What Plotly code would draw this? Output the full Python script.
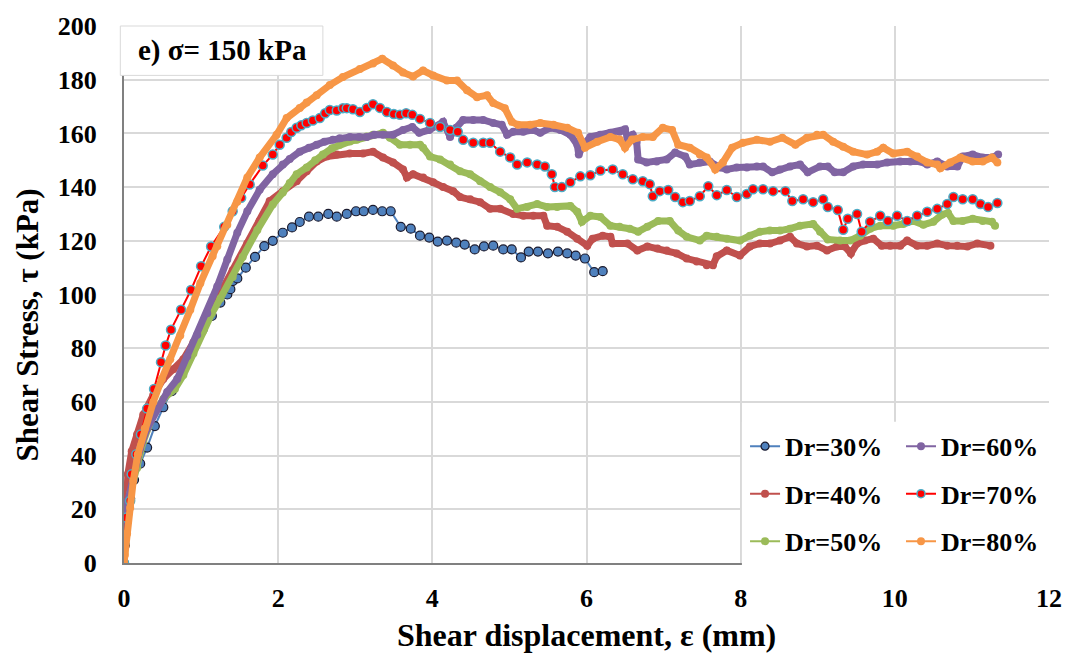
import plotly.graph_objects as go

# ---------------- data ----------------
x30 = [0, 0.01, 0.02, 0.04, 0.08, 0.13, 0.21, 0.30, 0.40, 0.51, 0.62, 0.77, 0.90, 1.02, 1.14, 1.25, 1.34, 1.38,
       1.41, 1.47, 1.58, 1.70, 1.82, 1.93, 2.06, 2.18, 2.28, 2.40, 2.52, 2.65, 2.76, 2.89, 3.01, 3.11, 3.23, 3.35,
       3.46, 3.59, 3.72, 3.84, 3.96, 4.07, 4.19, 4.31, 4.42, 4.55, 4.67, 4.79, 4.92, 5.03, 5.15, 5.25, 5.37, 5.50,
       5.63, 5.75, 5.86, 5.98, 6.10, 6.21]
y30 = [0, 6.6, 12, 18, 24, 31, 37, 43, 51, 58, 64, 73, 80, 87, 92, 97, 100, 102,
       105, 106, 110, 114, 118, 120, 123, 125, 127, 129, 129, 130, 129, 130, 131, 131, 131.5, 131,
       131, 125.2, 124.5, 121.9, 121.2, 119.7, 120.1, 119.3, 118.6, 116.8, 117.9, 118.2, 116.8, 116.8, 113.8, 116.0,
       116.0, 115.3, 116.0, 115.3, 114.5, 113.4, 108.3, 108.7]

x40 = [0, 0.01, 0.02, 0.05, 0.10, 0.17, 0.25, 0.38, 0.51, 0.64, 0.77, 0.90, 1.08, 1.25, 1.41, 1.60, 1.76, 1.89,
       2.06, 2.24, 2.37, 2.50, 2.63, 2.76, 2.93, 3.10, 3.23, 3.36, 3.49, 3.62, 3.67, 3.75, 3.88, 4.01, 4.14, 4.27,
       4.36, 4.49, 4.62, 4.75, 4.88, 5.05, 5.18, 5.31, 5.44, 5.49, 5.62, 5.75, 5.88, 6.01, 6.08, 6.21, 6.31, 6.34,
       6.53, 6.66, 6.79, 6.92, 7.04, 7.17, 7.30, 7.43, 7.56, 7.64, 7.69, 7.82, 7.99, 8.12, 8.25, 8.38, 8.51, 8.64,
       8.73, 8.86, 8.99, 9.12, 9.25, 9.35, 9.43, 9.51, 9.61, 9.72, 9.83, 9.94, 10.07, 10.16, 10.29, 10.42, 10.55,
       10.68, 10.81, 10.94, 11.07, 11.24]
y40 = [0, 11.0, 23.2, 33.1, 41.6, 47.9, 55.2, 62.6, 68.5, 72.2, 75.9, 82.1, 90.6, 100.6, 109.0, 119.0, 127.4, 134.8,
       138.5, 142.2, 145.9, 149.5, 151.4, 152.1, 152.5, 152.5, 153.2, 151.0, 149.2, 146.6, 143.6, 144.8, 143.6, 141.8,
       140.0, 138.5, 136.3, 135.5, 134.4, 131.9, 131.9, 130.0, 129.3, 129.3, 129.3, 125.6, 125.2, 123.4, 120.8, 118.2,
       120.8, 121.9, 121.5, 119.0, 119.0, 116.4, 117.9, 117.1, 116.4, 115.3, 113.4, 112.3, 110.9, 110.9, 114.2, 116.4,
       114.5, 117.9, 119.0, 119.0, 120.1, 121.5, 119.0, 117.9, 118.2, 116.4, 117.9, 117.9, 115.3, 119.0, 120.1, 120.8,
       118.2, 118.2, 118.2, 120.1, 118.2, 118.2, 119.0, 118.2, 118.2, 117.9, 119.0, 118.2]

x50 = [0, 0.01, 0.04, 0.08, 0.17, 0.25, 0.38, 0.51, 0.66, 0.77, 0.90, 1.02, 1.14, 1.25, 1.41, 1.54, 1.73, 1.93,
       2.06, 2.15, 2.24, 2.37, 2.48, 2.58, 2.70, 2.80, 2.93, 3.02, 3.15, 3.23, 3.36, 3.45, 3.58, 3.71, 3.84, 3.88,
       3.97, 4.10, 4.23, 4.36, 4.49, 4.62, 4.75, 4.88, 5.01, 5.10, 5.23, 5.36, 5.49, 5.62, 5.79, 5.88, 5.94, 6.05,
       6.18, 6.31, 6.43, 6.56, 6.67, 6.79, 6.93, 7.08, 7.19, 7.30, 7.47, 7.56, 7.69, 7.82, 7.99, 8.12, 8.25, 8.38,
       8.51, 8.64, 8.77, 8.94, 9.03, 9.13, 9.29, 9.42, 9.55, 9.68, 9.81, 9.98, 10.11, 10.24, 10.37, 10.50, 10.61,
       10.69, 10.76, 10.88, 11.01, 11.14, 11.26, 11.30]
y50 = [0, 5.9, 15.8, 25.8, 35.4, 45.3, 55.2, 61.1, 64.8, 70.0, 78.0, 86.0, 93.0, 98.5, 106.5, 114.0, 124.0, 133.5,
       138.0, 141.5, 144.8, 147.3, 150.0, 152.1, 154.5, 155.8, 157.0, 157.6, 158.8, 159.5, 160.2, 158.4, 155.8, 155.8,
       155.8, 154.7, 151.4, 150.3, 148.4, 145.9, 144.8, 142.2, 140.0, 138.1, 135.5, 131.9, 132.6, 133.7, 132.6, 132.6,
       133.0, 130.8, 127.1, 129.3, 128.9, 125.6, 125.2, 124.5, 123.4, 125.2, 127.4, 127.4, 123.8, 121.5, 120.1, 121.9,
       121.5, 120.8, 120.1, 121.9, 123.4, 123.8, 123.8, 124.5, 125.6, 126.3, 123.4, 120.5, 120.1, 120.1, 121.9, 124.5,
       125.6, 125.6, 126.3, 127.4, 126.0, 127.1, 129.7, 130.4, 127.4, 127.4, 128.2, 127.4, 127.1, 125.6]

x60 = [0, 0.01, 0.05, 0.12, 0.21, 0.30, 0.43, 0.56, 0.69, 0.82, 0.95, 1.08, 1.21, 1.34, 1.47, 1.60, 1.76, 1.93,
       2.06, 2.15, 2.28, 2.40, 2.50, 2.60, 2.71, 2.80, 2.93, 3.05, 3.15, 3.25, 3.36, 3.49, 3.62, 3.74, 3.83, 3.96,
       4.14, 4.23, 4.31, 4.40, 4.53, 4.66, 4.79, 4.90, 4.97, 5.05, 5.18, 5.31, 5.40, 5.53, 5.66, 5.79, 5.88, 5.90,
       5.96, 6.05, 6.18, 6.31, 6.43, 6.50, 6.53, 6.60, 6.65, 6.67, 6.78, 6.91, 7.04, 7.15, 7.28, 7.34, 7.47, 7.60,
       7.73, 7.82, 7.95, 8.08, 8.21, 8.29, 8.41, 8.51, 8.64, 8.77, 8.87, 9.03, 9.13, 9.22, 9.33, 9.46, 9.59, 9.77,
       9.90, 10.07, 10.20, 10.33, 10.42, 10.55, 10.68, 10.81, 10.88, 11.01, 11.14, 11.26, 11.34]
y60 = [0, 11.0, 23.2, 33.1, 42.7, 50.1, 57.5, 63.7, 68.5, 77.0, 85.0, 93.0, 103.0, 113.0, 123.0, 131.0, 139.0, 144.8,
       148.4, 150.5, 153.2, 154.7, 155.8, 156.9, 157.6, 158.2, 158.7, 158.7, 158.7, 159.5, 159.5, 159.5, 161.3, 162.4,
       160.2, 161.3, 164.3, 158.7, 162.1, 165.0, 165.0, 165.0, 163.9, 163.2, 159.5, 160.6, 160.6, 161.3, 160.2, 162.1,
       161.3, 159.5, 155.8, 152.1, 155.8, 158.7, 159.5, 160.2, 160.6, 161.5, 158.4, 159.5, 156.9, 150.3, 149.2, 149.5,
       150.3, 152.9, 151.4, 148.4, 149.2, 149.5, 147.3, 146.6, 147.3, 147.3, 147.7, 147.7, 145.5, 146.6, 147.7, 148.4,
       145.5, 147.7, 147.7, 145.5, 145.5, 147.7, 148.4, 148.4, 149.2, 149.5, 149.5, 149.5, 148.4, 149.5, 147.7, 147.7,
       151.4, 152.1, 151.0, 151.0, 152.1]

x70 = [0, 0.005, 0.03, 0.08, 0.10, 0.16, 0.22, 0.30, 0.39, 0.48, 0.54, 0.61, 0.74, 0.87, 1.00, 1.13, 1.30, 1.41,
       1.52, 1.63, 1.80, 1.93, 2.02, 2.11, 2.17, 2.24, 2.30, 2.37, 2.45, 2.54, 2.61, 2.67, 2.76, 2.84, 2.89, 2.97,
       3.06, 3.15, 3.23, 3.32, 3.41, 3.50, 3.58, 3.66, 3.74, 3.84, 3.97, 4.10, 4.23, 4.33, 4.40, 4.53, 4.66, 4.75,
       4.88, 5.01, 5.10, 5.23, 5.36, 5.46, 5.55, 5.59, 5.68, 5.79, 5.92, 6.05, 6.18, 6.34, 6.47, 6.60, 6.73, 6.82,
       6.86, 6.95, 7.06, 7.15, 7.25, 7.34, 7.47, 7.58, 7.69, 7.82, 7.95, 8.08, 8.16, 8.29, 8.42, 8.58, 8.67, 8.81,
       8.94, 9.07, 9.13, 9.26, 9.33, 9.39, 9.51, 9.57, 9.68, 9.81, 9.91, 10.03, 10.16, 10.29, 10.42, 10.55, 10.68,
       10.76, 10.88, 11.01, 11.11, 11.21, 11.33]
y70 = [0, 7.4, 16.9, 23.2, 33.1, 40.5, 47.9, 57.5, 64.8, 74.8, 81.0, 86.9, 94.3, 101.7, 110.5, 117.9, 125.2, 131.0,
       136.0, 141.0, 148.0, 152.1, 155.8, 158.4, 160.5, 162.1, 163.0, 163.9, 164.8, 165.7, 167.5, 168.7, 168.5, 169.4,
       169.4, 169.0, 168.0, 169.5, 170.9, 169.5, 168.0, 167.2, 166.9, 167.5, 166.9, 165.4, 163.9, 162.4, 161.3, 160.6,
       157.6, 156.5, 156.5, 156.5, 153.2, 151.0, 148.4, 149.2, 148.4, 147.7, 144.8, 140.0, 140.0, 141.8, 144.0, 144.4,
       146.2, 146.6, 144.8, 142.9, 142.2, 141.1, 136.6, 138.5, 138.9, 136.3, 134.4, 134.8, 136.6, 140.3, 137.0, 138.9,
       136.3, 137.4, 139.2, 139.2, 138.5, 138.5, 134.8, 135.5, 134.4, 135.5, 132.6, 131.5, 124.1, 128.2, 130.0, 123.4,
       127.1, 129.3, 127.4, 129.3, 127.4, 129.3, 130.8, 131.9, 133.7, 136.3, 135.5, 135.5, 133.7, 132.6, 134.1]

x80 = [0, 0.01, 0.04, 0.08, 0.12, 0.18, 0.27, 0.38, 0.49, 0.60, 0.73, 0.86, 0.99, 1.15, 1.21, 1.34, 1.47, 1.60,
       1.76, 1.98, 2.11, 2.28, 2.37, 2.50, 2.67, 2.84, 3.06, 3.23, 3.35, 3.49, 3.62, 3.75, 3.88, 4.01, 4.19, 4.32,
       4.45, 4.58, 4.71, 4.79, 4.94, 5.03, 5.11, 5.27, 5.40, 5.57, 5.75, 5.89, 5.98, 6.14, 6.31, 6.43, 6.50, 6.59,
       6.73, 6.86, 6.99, 7.11, 7.19, 7.34, 7.47, 7.56, 7.67, 7.77, 7.89, 8.03, 8.21, 8.38, 8.54, 8.71, 8.86, 8.99,
       9.07, 9.20, 9.33, 9.46, 9.64, 9.77, 9.85, 9.98, 10.16, 10.29, 10.42, 10.55, 10.59, 10.72, 10.85, 11.01,
       11.14, 11.26, 11.33]
y80 = [0, 3.0, 11.0, 20.6, 30.6, 40.5, 50.1, 60.0, 68.5, 75.9, 84.7, 94.3, 104.2, 114.2, 118.0, 126.0, 134.5, 143.6,
       151.0, 159.5, 165.7, 169.5, 171.5, 174.2, 178.0, 181.0, 184.0, 186.0, 187.8, 185.3, 182.7, 181.2, 183.4, 181.6,
       179.7, 179.7, 176.1, 173.5, 174.2, 171.3, 169.4, 164.3, 163.2, 163.2, 163.9, 163.2, 162.1, 160.2, 154.7, 156.9,
       158.7, 157.7, 154.7, 157.7, 158.7, 158.7, 162.1, 161.3, 155.8, 154.7, 152.1, 151.0, 146.6, 149.2, 154.7, 156.5,
       157.6, 156.9, 158.4, 155.8, 158.4, 159.5, 159.5, 156.9, 155.0, 153.2, 152.1, 153.2, 154.7, 152.5, 153.2, 151.4,
       149.2, 148.4, 147.0, 149.2, 151.0, 149.5, 149.5, 151.0, 149.2]

names = ["Dr=30%", "Dr=40%", "Dr=50%", "Dr=60%", "Dr=70%", "Dr=80%"]
x_ticks = [0, 2, 4, 6, 8, 10, 12]
y_ticks = [0, 20, 40, 60, 80, 100, 120, 140, 160, 180, 200]

# ---------------- styling ----------------
FONT = "Liberation Serif, Times New Roman, serif"
C30, C40, C50, C60, C70, C80 = "#4F81BD", "#C0504D", "#9BBB59", "#8064A2", "#FF0000", "#F79646"

fig = go.Figure()

series = [
    ("Dr=30%", x30, y30, dict(color=C30, width=2), dict(size=9, color=C30, line=dict(color="#1a1a2e", width=1.2))),
    ("Dr=40%", x40, y40, dict(color=C40, width=7), dict(size=8, color=C40)),
    ("Dr=50%", x50, y50, dict(color=C50, width=7), dict(size=8, color=C50)),
    ("Dr=60%", x60, y60, dict(color=C60, width=7), dict(size=8, color=C60)),
    ("Dr=70%", x70, y70, dict(color=C70, width=2), dict(size=9, color=C70, line=dict(color="#4BACC6", width=1.5))),
    ("Dr=80%", x80, y80, dict(color=C80, width=7), dict(size=8, color=C80)),
]
for nm, xs, ys, ln, mk in series:
    fig.add_trace(go.Scatter(x=xs, y=ys, mode="lines+markers", name=nm, line=ln, marker=mk,
                             showlegend=False))

# legend proxies (thin line + marker), one legend per entry for exact placement
legend_specs = {
    "Dr=30%": ("legend", 0.6714, 0.2173),
    "Dr=40%": ("legend2", 0.6714, 0.1289),
    "Dr=50%": ("legend3", 0.6714, 0.0405),
    "Dr=60%": ("legend4", 0.840, 0.2173),
    "Dr=70%": ("legend5", 0.840, 0.1289),
    "Dr=80%": ("legend6", 0.840, 0.0405),
}
for nm, xs, ys, ln, mk in series:
    lg = legend_specs[nm][0]
    mk2 = dict(mk)
    mk2["size"] = 8
    fig.add_trace(go.Scatter(x=[None], y=[None], mode="lines+markers", name=nm,
                             line=dict(color=ln["color"], width=2), marker=mk2,
                             showlegend=True, legend=lg))

legend_layout = {}
for nm, (lg, lx, ly) in legend_specs.items():
    legend_layout[lg] = dict(x=lx, y=ly, xanchor="left", yanchor="middle",
                             bgcolor="rgba(0,0,0,0)", borderwidth=0,
                             font=dict(family=FONT, size=26, color="black", weight="bold"),
                             itemwidth=30)

fig.update_layout(
    width=1074, height=653,
    margin=dict(l=124, r=25, t=20, b=90),
    paper_bgcolor="white", plot_bgcolor="white",
    xaxis=dict(range=[0, 12], tickvals=x_ticks, showgrid=True, gridcolor="#d9d9d9", gridwidth=1.5,
               showline=True, linecolor="#808080", linewidth=2, zeroline=False, ticks="",
               ticklabelstandoff=11,
               tickfont=dict(family=FONT, size=26, color="black", weight="bold")),
    yaxis=dict(range=[0, 200], tickvals=y_ticks, showgrid=True, gridcolor="#d9d9d9", gridwidth=1.5,
               showline=True, linecolor="#808080", linewidth=2, zeroline=False, ticks="",
               ticklabelstandoff=20,
               tickfont=dict(family=FONT, size=26, color="black", weight="bold")),
    shapes=[
        # title box at top-left
        dict(type="rect", xref="paper", yref="paper", x0=-0.004, x1=0.215, y0=0.908, y1=1.0,
             fillcolor="white", line=dict(color="#d9d9d9", width=1), layer="above"),
        # legend background box
        dict(type="rect", xref="paper", yref="paper", x0=0.668, x1=1.012, y0=-0.008, y1=0.263,
             fillcolor="white", line=dict(width=0), layer="above"),
    ],
    annotations=[
        dict(text="e) σ= 150 kPa", xref="paper", yref="paper", x=0.106, y=0.954,
             xanchor="center", yanchor="middle", showarrow=False,
             font=dict(family=FONT, size=29, color="black", weight="bold")),
        dict(text="Shear displacement, ε (mm)", xref="paper", yref="paper", x=0.5, y=-0.1345,
             xanchor="center", yanchor="middle", showarrow=False,
             font=dict(family=FONT, size=32, color="black", weight="bold")),
        dict(text="Shear Stress, τ (kPa)", xref="paper", yref="paper", x=-0.1038, y=0.444,
             xanchor="center", yanchor="middle", showarrow=False, textangle=-90,
             font=dict(family=FONT, size=31, color="black", weight="bold")),
    ],
    **legend_layout,
)

fig.write_html("out.html")
